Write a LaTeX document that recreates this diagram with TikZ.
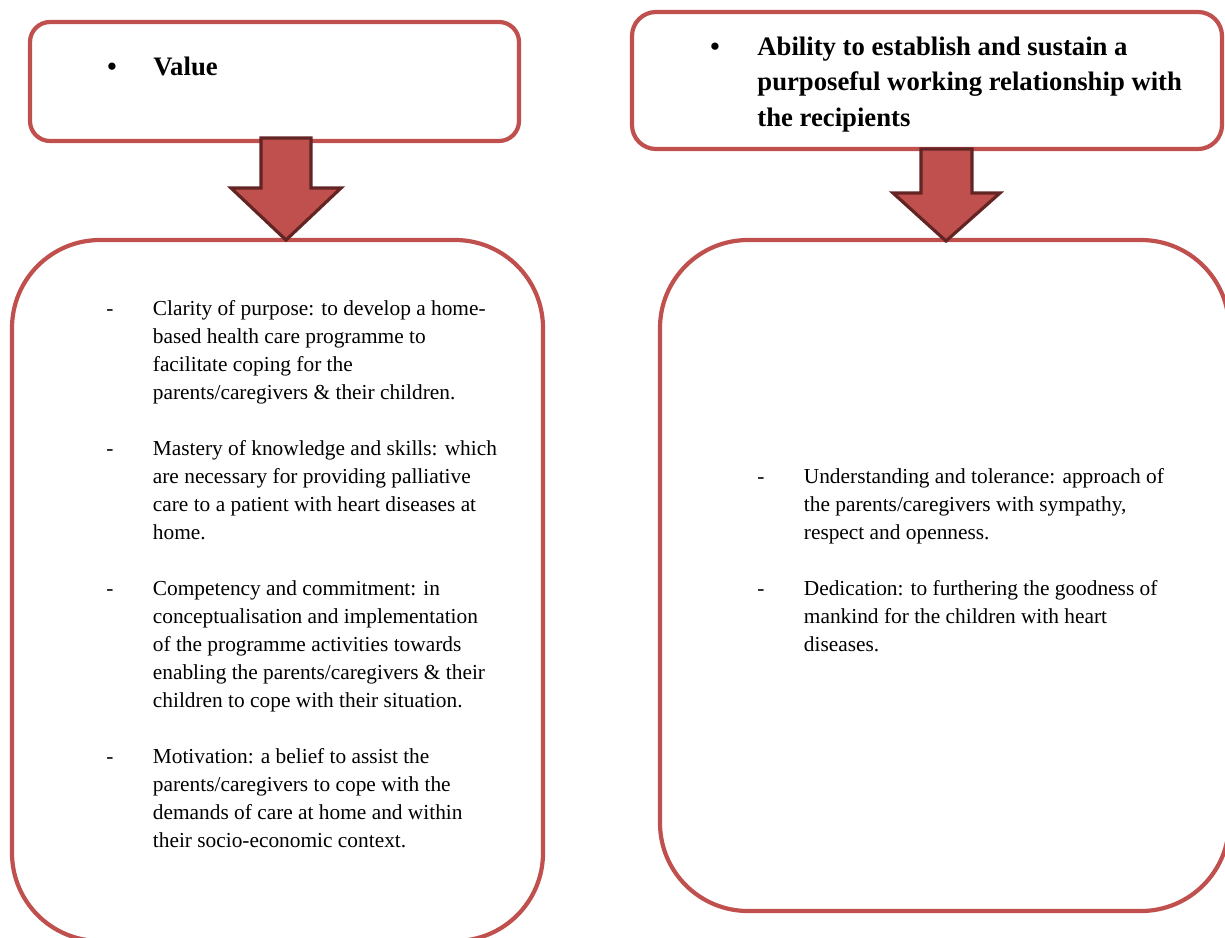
\documentclass[tikz,border=0pt]{standalone}
\usepackage{fontspec}
\setmainfont{Liberation Serif}
\definecolor{boxred}{HTML}{C0504D}
\definecolor{darkred}{HTML}{632523}
\tikzset{
  frame/.style={draw=boxred, line width=2.1pt, rounded corners=#1, inner sep=0pt},
  blockarrow/.style={fill=boxred, draw=darkred, line width=1.6pt, line join=miter},
  body/.style={anchor=north west, inner sep=0pt, align=left, font=\fontsize{10.68}{14}\selectfont},
  title/.style={anchor=north west, inner sep=0pt, align=left, font=\fontsize{13.35}{17.75}\selectfont\bfseries},
  bul/.style={anchor=base, inner sep=0pt, font=\fontsize{13.35}{17.75}\selectfont\bfseries},
}
\newcommand{\dashitem}{\makebox[23.25pt][l]{-}}
\newcommand{\hang}{\hspace*{23.25pt}}
\begin{document}
\begin{tikzpicture}[x=0.5pt,y=-0.5pt]
\useasboundingbox (0,0) rectangle (1225,937);
% boxes
\node[frame=10pt, minimum width=244.5pt, minimum height=59.5pt] (tl) at (274.5,81.5) {};
\node[frame=12pt, minimum width=295pt, minimum height=68.5pt] (tr) at (927,80.5) {};
\node[frame=44pt, minimum width=265.5pt, minimum height=350.5pt] (bl) at (277.5,590.5) {};
\node[frame=44pt, minimum width=284.5pt, minimum height=335.5pt] (br) at (944.5,575.5) {};
% block arrows
\coordinate (la) at (286,240);
\coordinate (ra) at (946,241);
\draw[blockarrow] (261,138) -- (311,138) -- (311,188) -- (341,188) -- (la) -- (231,188) -- (261,188) -- cycle;
\draw[blockarrow] (921,149) -- (972,149) -- (972,193) -- (1000,193) -- (ra) -- (893,193) -- (921,193) -- cycle;
% titles
\node[bul] (b1) at (112,75) {•};
\node[title] (t1) at (153,50.15) {\strut Value};
\node[bul] (b2) at (715,55) {•};
\node[title] (t2) at (757,30.15) {\strut Ability to establish and sustain a\\
purposeful working relationship with\\
the recipients};
% left list
\node[body] (l1) at (106,295.4) {\strut\dashitem Clarity of purpose: to develop a home-\\
\hang based health care programme to\\
\hang facilitate coping for the\\
\hang parents/caregivers \& their children.\\[14pt]
\dashitem Mastery of knowledge and skills: which\\
\hang are necessary for providing palliative\\
\hang care to a patient with heart diseases at\\
\hang home.\\[14pt]
\dashitem Competency and commitment: in\\
\hang conceptualisation and implementation\\
\hang of the programme activities towards\\
\hang enabling the parents/caregivers \& their\\
\hang children to cope with their situation.\\[14pt]
\dashitem Motivation: a belief to assist the\\
\hang parents/caregivers to cope with the\\
\hang demands of care at home and within\\
\hang their socio-economic context.};
% right list
\node[body] (r1) at (757,463.4) {\strut\dashitem Understanding and tolerance: approach of\\
\hang the parents/caregivers with sympathy,\\
\hang respect and openness.\\[14pt]
\dashitem Dedication: to furthering the goodness of\\
\hang mankind for the children with heart\\
\hang diseases.};
\end{tikzpicture}
\end{document}
